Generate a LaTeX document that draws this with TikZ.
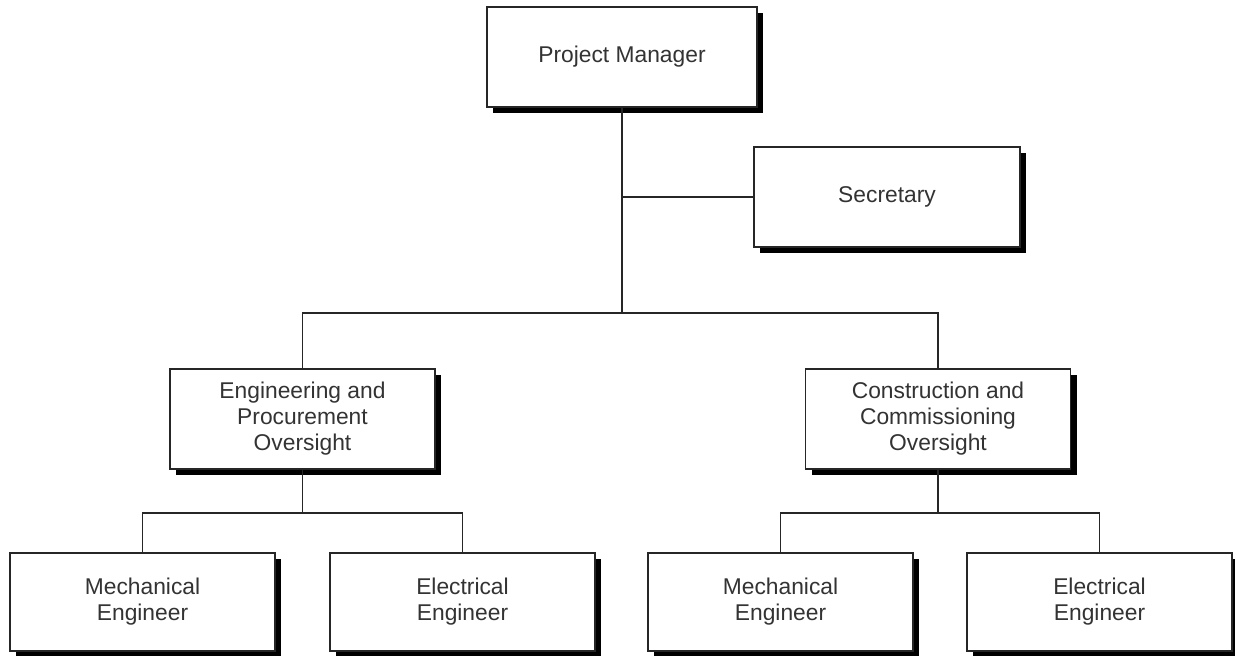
\documentclass[tikz,border=0pt]{standalone}
\usepackage{fontspec}
\setmainfont{Liberation Sans}
\usetikzlibrary{shadows,positioning,calc}
\tikzset{
  unit/.style={draw=black!85,line width=0.6pt,fill=white,align=center,minimum width=132.5pt,minimum height=50pt,inner sep=2pt,font=\fontsize{11.4}{13}\selectfont,text=black!80,drop shadow={shadow xshift=3pt,shadow yshift=-3pt,fill=black,opacity=1}},
  link/.style={draw=black!85,line width=0.6pt}
}
\begin{document}
\begin{tikzpicture}[x=0.5pt,y=-0.5pt]
\useasboundingbox (0,0) rectangle (1235,655);
\node[unit,minimum width=135pt](pm) at (622,57){Project Manager};
\node[unit,minimum width=133pt](sec) at (887,197){Secretary};
\node[unit](eng) at (302.5,419){Engineering and\\Procurement\\Oversight};
\node[unit](con) at (938,419){Construction and\\Commissioning\\Oversight};
\node[unit,minimum height=49pt](me1) at (142.5,602){Mechanical\\Engineer};
\node[unit,minimum height=49pt](ee1) at (462.5,602){Electrical\\Engineer};
\node[unit,minimum height=49pt](me2) at (780.5,602){Mechanical\\Engineer};
\node[unit,minimum height=49pt](ee2) at (1099.5,602){Electrical\\Engineer};
\coordinate (hub) at (pm.south |- 0,313);
\draw[link](pm.south)--(hub);
\draw[link](sec.west)--(sec.west -| pm.south);
\draw[link](eng.north)|-(hub)-|(con.north);
\draw[link](eng.south)--(eng.south |- 0,513);
\draw[link](me1.north)|-(eng.south |- 0,513)-|(ee1.north);
\draw[link](con.south)--(con.south |- 0,513);
\draw[link](me2.north)|-(con.south |- 0,513)-|(ee2.north);
\end{tikzpicture}
\end{document}
